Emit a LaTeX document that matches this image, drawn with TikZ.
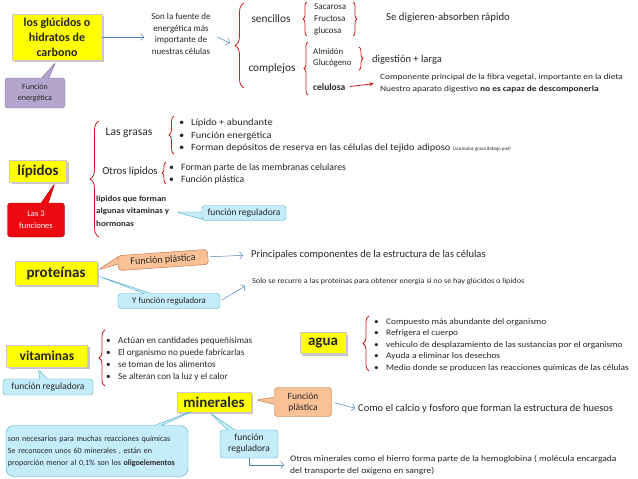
\documentclass[tikz,border=0pt]{standalone}
\usepackage{fontspec}
\setmainfont{Carlito}
\usetikzlibrary{shapes.callouts, arrows.meta, decorations.pathreplacing, shadows}
\definecolor{keyyellow}{RGB}{255,255,0}
\definecolor{tipblue}{RGB}{196,236,250}
\definecolor{tipblueline}{RGB}{75,172,198}
\definecolor{tiporange}{RGB}{250,192,150}
\definecolor{tiporangeline}{RGB}{190,110,60}
\definecolor{tippurple}{RGB}{180,165,205}
\definecolor{tippurpleline}{RGB}{128,100,162}
\definecolor{tipred}{RGB}{235,10,15}
\definecolor{bracered}{RGB}{205,30,30}
\definecolor{arrowblue}{RGB}{79,129,189}
\newcommand{\fsz}[2]{\fontsize{#1}{#2}\selectfont}
\newcommand{\wide}[1]{\addfontfeature{FakeStretch=#1}}
\newcommand{\itm}{\makebox[12pt][l]{\textbullet}}

\begin{document}
\begin{tikzpicture}[
  x=1pt, y=-1pt, text=black!85,
  keybox/.style={draw=black!20, fill=keyyellow, drop shadow={shadow xshift=2pt, shadow yshift=-2pt, fill=black!45}, font=\bfseries\fsz{15}{15}, align=center, inner sep=2pt},
  tip/.style={rectangle callout, rounded corners=3pt, align=center, inner sep=2pt, font=\fsz{9.5}{11}},
  tipblue/.style={tip, fill=tipblue, draw=tipblueline},
  tiporange/.style={tip, fill=tiporange, draw=tiporangeline},
  txt/.style={anchor=west, align=left, inner sep=0pt},
  rbrace/.style={decorate, decoration={brace, amplitude=#1}, draw=bracered, line width=0.8pt},
  rbrace/.default=5,
  arr/.style={-{Straight Barb[length=3pt, width=7pt]}, draw=arrowblue, line width=0.5pt}
]
  \useasboundingbox (0,0) rectangle (638,479);

  % glucidos
  \node[keybox, font=\bfseries\fsz{12}{15}, minimum width=90, minimum height=46] (gluc) at (57,37) {los glúcidos o\\hidratos de\\carbono};
  \node[tip, fill=tippurple, draw=tippurpleline, font=\fsz{8}{11}, minimum width=60, minimum height=30, callout absolute pointer={(56,62)}] (energ) at (35,93) {Función\\energética};
  \node[align=center, font=\fsz{9}{11.5}, inner sep=0pt] (fuente) at (181,34) {Son la fuente de\\energética más\\importante de\\nuestras células};
  \draw[arr, shorten >=7pt] (gluc.east) -- (fuente.west |- gluc.east);
  \coordinate (fuenteout) at (217,37);
  \coordinate (glutip) at (230,43);
  \draw[arr] (fuenteout) -- (glutip);
  \draw[rbrace=9] (244,88) -- (244,3);

  \node[font=\fsz{11.3}{12}] (sencillos) at (271,19) {sencillos};
  \node[font=\fsz{11.3}{12}] (complejos) at (272,69) {complejos};
  \draw[rbrace=4] (307,36) -- (307,2);
  \node[txt, font=\fsz{9}{12}] (azucares) at (314,19) {Sacarosa\\Fructosa\\glucosa};
  \draw[rbrace=4] (353,2) -- (353,36);
  \node[txt, font=\fsz{10.8}{12}] (rapido) at (386,18) {Se digieren-absorben rápido};
  \draw[rbrace=4] (308,95) -- (308,42);
  \node[txt, font=\fsz{8.8}{11}] (almidon) at (313,58) {Almidón\\Glucógeno};
  \draw[rbrace=4] (359,47) -- (359,70);
  \node[txt, font=\fsz{10.5}{12}] (digestion) at (372,60) {digestión + larga};
  \node[txt, font=\bfseries\fsz{9.5}{11}] (celulosa) at (313,87) {celulosa};
  \node[txt, font=\fsz{8}{12}\wide{1.17}] (fibra) at (380,83) {Componente principal de la fibra vegetal, importante en la dieta\\Nuestro aparato digestivo \textbf{no es capaz de descomponerla}};
  \draw[-{Stealth[length=5pt]}, draw=bracered, line width=0.8pt, shorten <=4pt, shorten >=6pt] (celulosa.east) -- (fibra.west);

  % lipidos
  \node[keybox, minimum width=57, minimum height=22] (lipidos) at (38,171) {lípidos};
  \node[tip, fill=tipred, draw=tipred!70!black, text=white, minimum width=57, minimum height=34, font=\fsz{8.5}{12}, callout absolute pointer={(55,183)}] (tres) at (36,220) {Las 3\\funciones};
  \draw[rbrace=9] (99,237) -- (99,121);
  \node[font=\fsz{11.5}{12}] (grasas) at (129,133) {Las grasas};
  \draw[rbrace=5] (174,154) -- (174,116);
  \node[txt, font=\fsz{9.5}{12.5}\wide{1.1}] (grasaslist) at (179,136) {\itm Lípido + abundante\\\itm Función energética\\\itm Forman depósitos de reserva en las células del tejido adiposo {\fsz{5}{6}\wide{1}(acúmulos grasa debajo piel)}};
  \node[font=\fsz{10.8}{12}] (otros) at (130,172) {Otros lípidos};
  \draw[rbrace=4] (166,184) -- (166,162);
  \node[txt, font=\fsz{9.7}{12.5}] (otroslist) at (169,174) {\itm Forman parte de las membranas celulares\\\itm Función plástica};
  \node[txt, font=\bfseries\fsz{8}{12.5}\wide{1.12}] (vitlip) at (96,211) {lípidos que forman\\algunas vitaminas y\\hormonas};
  \node[tipblue, minimum width=84, minimum height=15, callout absolute pointer={(176,212)}] (reglip) at (244,213) {función reguladora};

  % proteinas
  \node[keybox, minimum width=82, minimum height=24] (prot) at (56,273) {proteínas};
  \node[tiporange, rotate=4, font=\fsz{10}{11}, minimum width=90, minimum height=15, callout absolute pointer={(98,270)}] (plastprot) at (163,260) {Función plástica};
  \node[txt, font=\fsz{10.5}{11}] (principales) at (251,255) {Principales componentes de la estructura de las células};
  \draw[arr, shorten <=2pt, shorten >=8pt] (plastprot.east) -- (principales.west);
  \node[tipblue, font=\fsz{8.8}{11}, minimum width=102, minimum height=15, callout absolute pointer={(98,276)}] (regprot) at (169,301) {Y función reguladora};
  \node[txt, font=\fsz{7.5}{11}\wide{1.1}] (solo) at (252,282) {Solo se recurre a las proteinas para obtener energia si no se hay glúcidos o lipidos};
  \draw[arr, shorten <=2pt, shorten >=8pt] (regprot.east) -- (solo.west);

  % vitaminas
  \node[keybox, font=\bfseries\fsz{13.5}{15}, minimum width=81, minimum height=22] (vit) at (47,356) {vitaminas};
  \node[tipblue, minimum width=90, minimum height=16, callout absolute pointer={(38,369)}] (regvit) at (48,387) {función reguladora};
  \draw[rbrace=6] (105,386) -- (105,330);
  \node[txt, font=\fsz{9.2}{12}] (vitlist) at (106,359) {\itm Actúan en cantidades pequeñísimas\\\itm El organismo no puede fabricarlas\\\itm se toman de los alimentos\\\itm Se alteran con la luz y el calor};

  % agua
  \node[keybox, minimum width=46, minimum height=21] (agua) at (323,343) {agua};
  \draw[rbrace=6] (369,371) -- (369,316);
  \node[txt, font=\fsz{8.5}{11.5}\wide{1.1}] (agualist) at (374,345) {\itm Compuesto más abundante del organismo\\\itm Refrigera el cuerpo\\\itm vehiculo de desplazamiento de las sustancias por el organismo\\\itm Ayuda a eliminar los desechos\\\itm Medio donde se producen las reacciones químicas de las células};

  % minerales
  \node[keybox, minimum width=74, minimum height=20] (min) at (214,402) {minerales};
  \node[tiporange, minimum width=57, minimum height=29, callout absolute pointer={(256,400)}] (plastmin) at (303,402) {Función\\plástica};
  \node[txt, font=\fsz{10.5}{11}] (calcio) at (358,409) {Como el calcio y fosforo que forman la estructura de huesos};
  \draw[arr, shorten <=3pt, shorten >=3pt] (plastmin.east) -- (calcio.west);
  \node[tipblue, minimum width=58, minimum height=28, callout absolute pointer={(210,413)}] (regmin) at (249,444) {función\\reguladora};
  \node[txt, font=\fsz{8.5}{12}\wide{1.12}] (hierro) at (290,465) {Otros minerales como el hierro forma parte de la hemoglobina ( molécula encargada\\del transporte del oxigeno en sangre)};
  \draw[arr, shorten >=6pt] (regmin.south) |- (hierro.west);
  \node[tipblue, rounded corners=8pt, text width=178, minimum height=51, align=left, font=\fsz{8}{12}, callout absolute pointer={(195,410)}] (oligo) at (97,451) {son necesarios para muchas reacciones químicas\\Se reconocen unos 60 minerales , están en\\proporción menor al 0,1\% son los \textbf{oligoelementos}};
\end{tikzpicture}
\end{document}
